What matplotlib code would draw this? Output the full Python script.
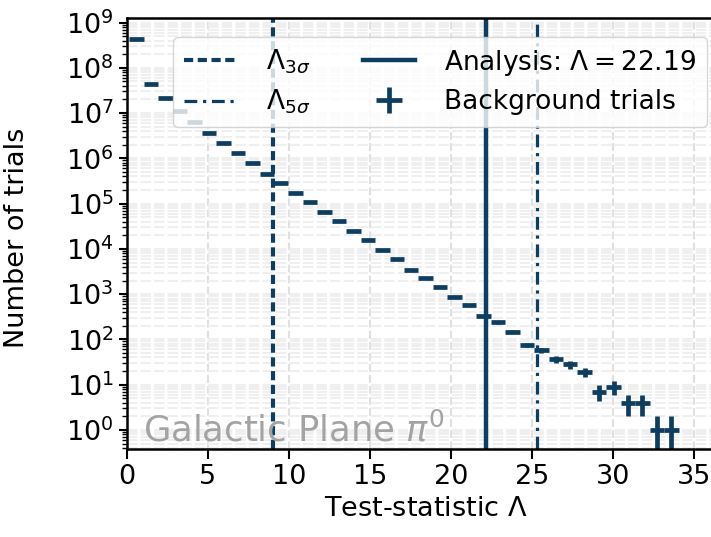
import numpy as np
import matplotlib
matplotlib.use("Agg")
from matplotlib import pyplot as plt
from matplotlib.ticker import LogLocator, NullFormatter

# background trials, counts per bin of test statistic
counts = [4.4e8, 4.5e7, 2.1e7, 1.12e7, 6.2e6, 3.66e6, 2.13e6, 1.28e6, 7.7e5, 4.6e5,
          2.9e5, 1.73e5, 1.08e5, 6.5e4, 4.05e4, 2.5e4, 1.54e4, 9.6e3, 5.96e3, 3.5e3,
          2.3e3, 1.41e3, 877, 565, 333, 238, 148, 75, 58, 37,
          28, 19, 7, 9, 4, 4, 1, 1]
ts_min = 0.154
ts_max = 34.05

ts_3sigma = 9.0
ts_5sigma = 25.3
ts_analysis = 22.19

col = '#0d3d5f'

edges = np.linspace(ts_min, ts_max, len(counts) + 1)
centers = 0.5 * (edges[1:] + edges[:-1])
halfw = 0.5 * np.diff(edges)
counts = np.array(counts)

plt.rcParams['font.family'] = 'DejaVu Sans'
fig = plt.figure(figsize=(7.11, 5.37), dpi=100)
ax = fig.add_axes([0.1786, 0.1639, 0.8248, 0.8026])

ax.axvline(ts_3sigma, color=col, lw=3, ls=(0, (2.2, 1.1)), label=r'$\Lambda_{3\sigma}$')
ax.axvline(ts_5sigma, color=col, lw=2.3, ls=(0, (4, 1.8, 1, 1.8)), label=r'$\Lambda_{5\sigma}$')
ax.axvline(ts_analysis, color=col, lw=3.2, label=r'Analysis: $\Lambda = %.2f$' % ts_analysis)
ax.errorbar(centers, counts, xerr=halfw, yerr=np.sqrt(counts), fmt='none',
            ecolor=col, elinewidth=3.4, capsize=0, label='Background trials')

ax.set_yscale('log')
ax.set_xlim(0, 36.2)
ax.set_ylim(0.38, 1.26e9)
ax.set_xticks(np.arange(0, 40, 5))
ax.yaxis.set_major_locator(LogLocator(base=10, numticks=20))
ax.yaxis.set_minor_locator(LogLocator(base=10, subs=np.arange(2, 10), numticks=20))
ax.yaxis.set_minor_formatter(NullFormatter())
ax.tick_params(axis='both', labelsize=19.5, width=1.5)
ax.tick_params(axis='x', which='major', length=7)
ax.tick_params(axis='y', which='major', length=6)
ax.tick_params(axis='y', which='minor', length=3.5, width=1)

ax.grid(True, which='major', axis='x', ls='--', color='#e0e0e0', lw=1.5)
ax.grid(True, which='both', axis='y', ls=(0, (5, 1.5)), color='#efefef', lw=1.5)
ax.set_axisbelow(True)
for s in ['left', 'top', 'bottom']:
    ax.spines[s].set_linewidth(1.8)
ax.spines['right'].set_visible(False)

ax.set_xlabel(r'Test-statistic $\Lambda$', fontsize=19.5)
ax.set_ylabel('Number of trials', fontsize=19.5)
ax.xaxis.set_label_coords(0.51, -0.11)
ax.yaxis.set_label_coords(-0.165, 0.49)

ax.text(0.027, 0.017, r'Galactic Plane $\pi^0$', transform=ax.transAxes,
        fontsize=25.5, color='#a3a3a3', va='baseline', ha='left')

ax.legend(loc='upper right', ncol=2, fontsize=19, bbox_to_anchor=(0.998, 0.968),
          borderaxespad=0.2, columnspacing=2.0, handletextpad=1.1, labelspacing=0.45)

fig.savefig('out.png', dpi=100)
